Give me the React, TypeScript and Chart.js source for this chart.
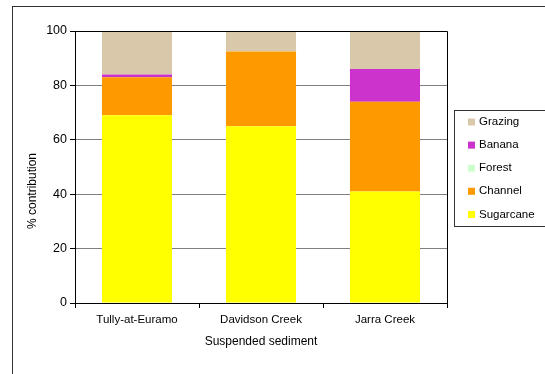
import React, { useEffect, useRef } from "react";
import { Chart, registerables } from "chart.js";

Chart.register(...registerables);

const categories = ["Tully-at-Euramo", "Davidson Creek", "Jarra Creek"];
const sugarcane = [69, 65, 41];
const channel = [14, 27.5, 33];
const forest = [0, 0, 0];
const banana = [1, 0, 12];
const grazing = [16, 7.5, 14];
const yTicks = [0, 20, 40, 60, 80, 100];

const FONT = "'Liberation Sans', Arial, sans-serif";
const FS = 11.5;

const framePlugin = {
  id: "frame",
  beforeDraw(chart: any) {
    const ctx = chart.ctx;
    ctx.save();
    ctx.fillStyle = "#ffffff";
    ctx.fillRect(0, 0, chart.width, chart.height);
    ctx.strokeStyle = "#333333";
    ctx.lineWidth = 1;
    ctx.strokeRect(12.5, 6.5, 700, 700);
    ctx.restore();
  },
  afterDraw(chart: any) {
    const ctx = chart.ctx;
    const a = chart.chartArea;
    ctx.save();
    // plot frame top and right
    ctx.strokeStyle = "#000000";
    ctx.lineWidth = 1;
    ctx.beginPath();
    ctx.moveTo(a.left, a.top + 0.5);
    ctx.lineTo(a.right + 0.5, a.top + 0.5);
    ctx.lineTo(a.right + 0.5, a.bottom);
    ctx.stroke();
    // y title
    ctx.fillStyle = "#000000";
    ctx.font = `12px ${FONT}`;
    ctx.textAlign = "center";
    ctx.textBaseline = "middle";
    ctx.translate(33, 191);
    ctx.rotate(-Math.PI / 2);
    ctx.fillText("% contribution", 0, 0);
    ctx.restore();

    // legend
    ctx.save();
    const bx = 454.5, by = 110.5, bw = 100, bh = 116;
    ctx.fillStyle = "#ffffff";
    ctx.fillRect(bx, by, bw, bh);
    ctx.strokeStyle = "#333333";
    ctx.lineWidth = 1;
    ctx.strokeRect(bx, by, bw, bh);
    const ds = chart.data.datasets.slice().reverse();
    ctx.font = `${FS}px ${FONT}`;
    ctx.textAlign = "left";
    ctx.textBaseline = "middle";
    ds.forEach((d: any, i: number) => {
      const cy = 122 + i * 23.1;
      ctx.fillStyle = d.backgroundColor;
      ctx.fillRect(468, cy - 3.5, 7, 7);
      ctx.fillStyle = "#000000";
      ctx.fillText(d.label, 479, cy);
    });
    ctx.restore();
  },
};

export default function App() {
  const ref = useRef<HTMLCanvasElement>(null);
  useEffect(() => {
    if (!ref.current) return;
    const chart = new Chart(ref.current, {
      type: "bar",
      data: {
        labels: categories,
        datasets: [
          { label: "Sugarcane", data: sugarcane, backgroundColor: "#FFFF00" },
          { label: "Channel", data: channel, backgroundColor: "#FF9900" },
          { label: "Forest", data: forest, backgroundColor: "#CCFFCC" },
          { label: "Banana", data: banana, backgroundColor: "#CC33CC" },
          { label: "Grazing", data: grazing, backgroundColor: "#D9C9AA" },
        ],
      },
      options: {
        animation: false,
        responsive: false,
        devicePixelRatio: 1,
        layout: { padding: { left: 0, top: 31, right: 98, bottom: 0 } },
        datasets: { bar: { categoryPercentage: 1, barPercentage: 0.565 } } as any,
        plugins: { legend: { display: false }, tooltip: { enabled: false } },
        scales: {
          x: {
            stacked: true,
            afterFit: (s: any) => { s.height = 71; },
            grid: { drawOnChartArea: false, offset: true, tickLength: 5, tickColor: "#000", color: "#000" },
            border: { color: "#000", width: 1 },
            ticks: { color: "#000", font: { family: FONT, size: FS }, padding: 5, maxRotation: 0, autoSkip: false },
            title: { display: true, text: "Suspended sediment", color: "#000", font: { family: FONT, size: 12 }, padding: { top: 0, bottom: 25 } },
          },
          y: {
            stacked: true,
            min: 0,
            max: 100,
            afterFit: (s: any) => { s.width = 75; },
            afterBuildTicks: (s: any) => { s.ticks = yTicks.map((v) => ({ value: v })); },
            grid: { color: "#808080", tickColor: "#000", tickLength: 5 },
            border: { color: "#000", width: 1 },
            ticks: { color: "#000", font: { family: FONT, size: 12.5 }, padding: 3 },
          },
        },
      },
      plugins: [framePlugin],
    });
    return () => chart.destroy();
  }, []);
  return (
    <div style={{ position: "absolute", left: 0, top: 0, width: 545, height: 374 }}>
      <canvas ref={ref} width={545} height={374} style={{ display: "block", width: 545, height: 374 }} />
    </div>
  );
}
